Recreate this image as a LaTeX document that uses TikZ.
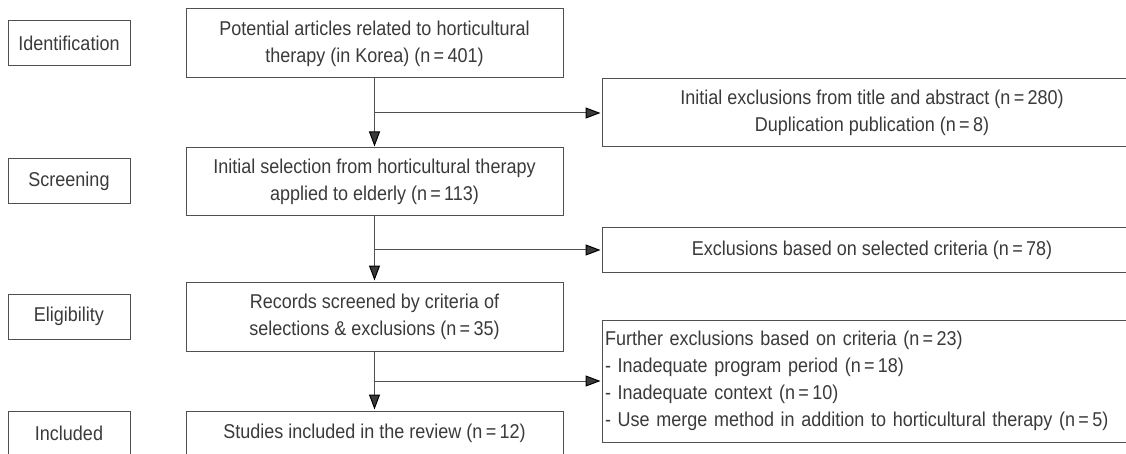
\documentclass[tikz,border=0pt]{standalone}
\usepackage{fontspec}
\setmainfont{Liberation Sans}[FakeStretch=0.9]
\usetikzlibrary{arrows.meta}
\definecolor{linha}{HTML}{505050}
\definecolor{texto}{HTML}{3a3a3a}
\begin{document}
\begin{tikzpicture}[x=1pt,y=-1pt]
\tikzset{
  etapa/.style={draw=linha,line width=1pt,minimum width=122pt,minimum height=45pt,inner sep=0pt},
  caixa/.style={draw=linha,line width=1pt,minimum width=377pt,inner sep=0pt,align=center},
  exclu/.style={draw=linha,line width=1pt,minimum width=540pt,inner sep=0pt,align=center},
  seta/.style={-{Triangle[length=15pt,width=11pt,color=black]},draw=linha,line width=1pt,shorten >=1pt}
}
\useasboundingbox (0,0) rectangle (1126,454);
\clip (0,0) rectangle (1126,454);
\fontsize{20}{27}\selectfont\color{texto}
% etapas (coluna da esquerda)
\node[etapa] (id) at (69,43.5)  {Identification};
\node[etapa] (sc) at (69,181.5) {Screening};
\node[etapa] (el) at (69,316.5) {Eligibility};
\node[etapa] (in) at (69,433.5) {Included};

% caixas principais
\node[caixa,minimum height=69pt] (P) at (374.5,43.5) {Potential articles related to horticultural\\therapy (in Korea) (n\,=\,401)};
\node[caixa,minimum height=68pt] (S) at (374.5,182)  {Initial selection from horticultural therapy\\applied to elderly (n\,=\,113)};
\node[caixa,minimum height=69pt] (R) at (374.5,316.5) {Records screened by criteria of\\selections \& exclusions (n\,=\,35)};
\node[caixa,minimum height=45pt] (E) at (374.5,433.5) {Studies included in the review (n\,=\,12)};

% exclusoes (coluna da direita)
\node[exclu,minimum height=68pt] (X1) at (872,113) {Initial exclusions from title and abstract (n\,=\,280)\\Duplication publication (n\,=\,8)};
\node[exclu,minimum height=44pt] (X2) at (872,250) {Exclusions based on selected criteria (n\,=\,78)};
\node[exclu,minimum height=122pt,align=left,text width=534pt,inner xsep=3pt] (X3) at (872,381)
  {Further exclusions based on criteria (n\,=\,23)\\
   - Inadequate program period (n\,=\,18)\\
   - Inadequate context (n\,=\,10)\\
   - Use merge method in addition to horticultural therapy (n\,=\,5)};

% setas verticais
\draw[seta] (P) -- (S);
\draw[seta] (S) -- (R);
\draw[seta] (R) -- (E);

% ramos para as exclusoes
\coordinate (b1) at (P.south |- X1.west);
\coordinate (b2) at (S.south |- X2.west);
\coordinate (b3) at (R.south |- X3.west);
\draw[seta] (b1) -- (X1);
\draw[seta] (b2) -- (X2);
\draw[seta] (b3) -- (X3);
\end{tikzpicture}
\end{document}
